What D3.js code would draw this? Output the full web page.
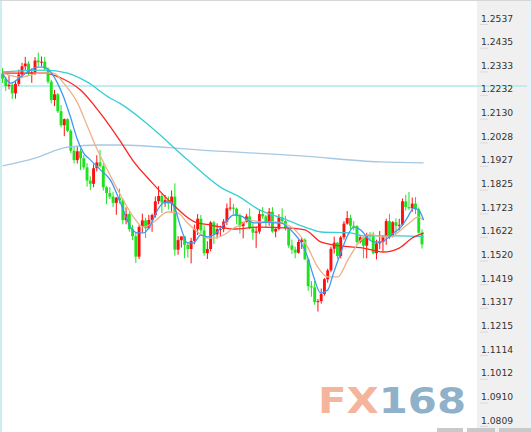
<!DOCTYPE html>
<html><head><meta charset="utf-8">
<script src="https://cdn.jsdelivr.net/npm/d3@7"></script>
<style>html,body{margin:0;padding:0;background:#fff;}svg{display:block;}</style>
</head><body>
<script>
// ---- data (EUR/USD daily candles) ----
const opens  = [1.2323,1.2302,1.2270,1.2276,1.2239,1.2280,1.2320,1.2355,1.2367,1.2327,1.2330,1.2380,1.2372,1.2375,1.2345,1.2289,1.2210,1.2235,1.2162,1.2102,1.2128,1.2078,1.1992,1.1952,1.1990,1.1960,1.1921,1.1864,1.1850,1.1917,1.1942,1.1926,1.1835,1.1810,1.1795,1.1768,1.1791,1.1779,1.1694,1.1720,1.1655,1.1625,1.1537,1.1665,1.1693,1.1659,1.1695,1.1716,1.1775,1.1798,1.1770,1.1780,1.1765,1.1795,1.1567,1.1608,1.1624,1.1588,1.1570,1.1605,1.1655,1.1700,1.1650,1.1552,1.1570,1.1684,1.1633,1.1655,1.1656,1.1688,1.1745,1.1748,1.1743,1.1713,1.1668,1.1686,1.1710,1.1659,1.1640,1.1645,1.1720,1.1710,1.1683,1.1730,1.1645,1.1657,1.1706,1.1690,1.1659,1.1585,1.1567,1.1554,1.1600,1.1610,1.1525,1.1410,1.1405,1.1342,1.1346,1.1377,1.1440,1.1478,1.1571,1.1597,1.1540,1.1620,1.1679,1.1703,1.1670,1.1668,1.1600,1.1620,1.1584,1.1630,1.1625,1.1552,1.1594,1.1600,1.1624,1.1690,1.1625,1.1685,1.1670,1.1674,1.1775,1.1750,1.1745,1.1765,1.1740,1.1640];
const highs  = [1.2347,1.2311,1.2318,1.2287,1.2294,1.2341,1.2370,1.2396,1.2376,1.2346,1.2395,1.2414,1.2397,1.2396,1.2350,1.2297,1.2254,1.2240,1.2188,1.2131,1.2132,1.2085,1.2011,1.2010,1.2000,1.1973,1.1939,1.1882,1.1934,1.1973,1.1996,1.1938,1.1840,1.1836,1.1816,1.1793,1.1830,1.1787,1.1749,1.1729,1.1674,1.1640,1.1675,1.1722,1.1704,1.1717,1.1722,1.1796,1.1840,1.1806,1.1802,1.1796,1.1821,1.1852,1.1625,1.1624,1.1627,1.1600,1.1618,1.1675,1.1720,1.1716,1.1672,1.1603,1.1690,1.1691,1.1680,1.1670,1.1699,1.1765,1.1790,1.1764,1.1748,1.1722,1.1687,1.1721,1.1745,1.1680,1.1667,1.1740,1.1750,1.1717,1.1746,1.1750,1.1659,1.1720,1.1745,1.1713,1.1660,1.1611,1.1580,1.1610,1.1620,1.1616,1.1530,1.1432,1.1433,1.1355,1.1400,1.1445,1.1485,1.1580,1.1623,1.1600,1.1626,1.1690,1.1733,1.1717,1.1690,1.1673,1.1627,1.1624,1.1640,1.1643,1.1644,1.1610,1.1647,1.1630,1.1700,1.1721,1.1690,1.1702,1.1700,1.1787,1.1803,1.1815,1.1791,1.1793,1.1748,1.1655];
const lows   = [1.2284,1.2249,1.2256,1.2215,1.2216,1.2270,1.2304,1.2339,1.2314,1.2284,1.2318,1.2355,1.2355,1.2335,1.2280,1.2196,1.2184,1.2155,1.2093,1.2055,1.2072,1.1983,1.1938,1.1937,1.1910,1.1911,1.1838,1.1823,1.1835,1.1904,1.1920,1.1821,1.1763,1.1784,1.1750,1.1717,1.1765,1.1676,1.1676,1.1644,1.1608,1.1510,1.1527,1.1640,1.1617,1.1654,1.1644,1.1705,1.1763,1.1725,1.1751,1.1740,1.1726,1.1541,1.1545,1.1576,1.1530,1.1533,1.1508,1.1590,1.1630,1.1637,1.1541,1.1527,1.1560,1.1591,1.1615,1.1623,1.1642,1.1673,1.1735,1.1720,1.1676,1.1636,1.1616,1.1683,1.1655,1.1610,1.1575,1.1635,1.1700,1.1663,1.1670,1.1640,1.1620,1.1650,1.1680,1.1649,1.1575,1.1549,1.1530,1.1550,1.1570,1.1525,1.1390,1.1365,1.1330,1.1301,1.1335,1.1370,1.1425,1.1470,1.1550,1.1528,1.1530,1.1610,1.1675,1.1654,1.1650,1.1592,1.1594,1.1530,1.1530,1.1605,1.1547,1.1525,1.1569,1.1560,1.1588,1.1612,1.1620,1.1634,1.1650,1.1670,1.1735,1.1738,1.1730,1.1720,1.1636,1.1572];
const closes = [1.2302,1.2270,1.2276,1.2239,1.2280,1.2320,1.2355,1.2367,1.2327,1.2330,1.2380,1.2372,1.2375,1.2345,1.2289,1.2210,1.2235,1.2162,1.2102,1.2128,1.2078,1.1992,1.1952,1.1990,1.1960,1.1921,1.1864,1.1850,1.1917,1.1942,1.1926,1.1835,1.1810,1.1795,1.1768,1.1791,1.1779,1.1694,1.1720,1.1655,1.1625,1.1537,1.1665,1.1693,1.1659,1.1695,1.1716,1.1775,1.1798,1.1770,1.1780,1.1765,1.1795,1.1567,1.1608,1.1624,1.1588,1.1570,1.1605,1.1655,1.1700,1.1650,1.1552,1.1570,1.1684,1.1633,1.1655,1.1656,1.1688,1.1745,1.1748,1.1743,1.1713,1.1668,1.1686,1.1710,1.1659,1.1640,1.1645,1.1720,1.1710,1.1683,1.1730,1.1645,1.1657,1.1706,1.1690,1.1659,1.1585,1.1567,1.1554,1.1600,1.1610,1.1525,1.1410,1.1405,1.1342,1.1346,1.1377,1.1440,1.1478,1.1571,1.1597,1.1540,1.1620,1.1679,1.1703,1.1670,1.1668,1.1600,1.1620,1.1584,1.1630,1.1625,1.1552,1.1594,1.1600,1.1624,1.1690,1.1625,1.1685,1.1670,1.1674,1.1775,1.1750,1.1745,1.1765,1.1740,1.1640,1.1590];

// moving-average lines: [candle index, value]
const ma5   = [[0,1.2326],[2.5,1.2283],[5.5,1.2309],[8.6,1.2339],[10.8,1.2352],[12.6,1.2352],[14.8,1.2331],[16.9,1.2283],[18.8,1.2223],[20.9,1.2137],[23.1,1.2038],[24.9,1.1983],[27.1,1.1952],[30.2,1.1909],[33.2,1.1866],[36.3,1.1768],[39.4,1.1664],[41.5,1.1639],[43.4,1.1639],[45.5,1.1673],[47.7,1.1738],[49.5,1.1768],[51.7,1.1772],[53.2,1.1738],[54.8,1.1664],[56.9,1.1596],[58.8,1.1596],[60.9,1.1630],[63.1,1.1622],[64.9,1.1630],[67.1,1.1660],[69.2,1.1695],[71.1,1.1716],[73.2,1.1712],[75.4,1.1695],[77.2,1.1682],[79.4,1.1682],[81.5,1.1686],[83.4,1.1682],[85.5,1.1682],[87.7,1.1664],[89.5,1.1639],[91.7,1.1600],[93.8,1.1536],[95.7,1.1450],[97.8,1.1381],[100,1.1394],[101.8,1.1467],[104,1.1553],[106.2,1.1630],[108,1.1664],[110.2,1.1652],[112.3,1.1617],[114.2,1.1600],[116.3,1.1600],[118.5,1.1617],[120.3,1.1639],[122.5,1.1664],[124.6,1.1707],[126.5,1.1746],[128,1.1738],[129.5,1.1695]];
const ma10  = [[0,1.2326],[5.5,1.2309],[11.7,1.2326],[15.7,1.2326],[18.8,1.2283],[23.1,1.2197],[26.2,1.2094],[29.2,1.1995],[33.2,1.1884],[36.3,1.1802],[40.3,1.1707],[43.4,1.1664],[46.5,1.1686],[50.8,1.1729],[53.8,1.1725],[56.9,1.1682],[60,1.1643],[63.1,1.1617],[64.9,1.1617],[68,1.1630],[71.1,1.1660],[73.2,1.1673],[75.4,1.1695],[79.4,1.1686],[83.4,1.1686],[87.7,1.1673],[90.8,1.1639],[93.8,1.1579],[96.9,1.1493],[100,1.1450],[103.1,1.1450],[106.2,1.1523],[110.2,1.1609],[113.2,1.1634],[116.3,1.1622],[119.4,1.1622],[122.5,1.1652],[125.5,1.1686],[127.7,1.1707],[129.5,1.1695]];
const ma30  = [[0,1.2326],[13,1.2326],[18,1.2305],[24,1.2253],[30,1.2155],[36,1.2038],[40,1.1952],[46,1.1855],[51,1.1781],[60,1.1682],[64,1.1673],[71,1.1656],[79,1.1664],[88,1.1660],[93,1.1652],[98,1.1600],[107,1.1579],[111,1.1574],[117,1.1557],[122,1.1574],[126,1.1617],[129.5,1.1639]];
const ma60  = [[0,1.2331],[13,1.2339],[20,1.2326],[26,1.2288],[33,1.2219],[36,1.2197],[46,1.2090],[57,1.1952],[67,1.1836],[73,1.1793],[79,1.1738],[86,1.1703],[93,1.1664],[98,1.1643],[107,1.1639],[111,1.1626],[122,1.1626],[129.5,1.1622]];
const ma200 = [[0,1.1927],[10,1.1961],[20,1.2008],[30,1.2017],[36,1.2017],[61,1.1995],[92,1.1970],[116,1.1944],[129.5,1.1940]];
const refLevel = 1.2270;
const tickLabels = ["1.2537","1.2435","1.2333","1.2232","1.2130","1.2028","1.1927","1.1825","1.1723","1.1622","1.1520","1.1419","1.1317","1.1215","1.1114","1.1012","1.0910","1.0809"];

// ---- drawing ----
const W = 531, H = 432;
const svg = d3.select("body").append("svg").attr("width", W).attr("height", H);
const N = closes.length;
const x = d3.scaleLinear().domain([0, N - 1]).range([2.5, 422]);
const y = d3.scaleLinear().domain([1.0809, 1.2537]).range([426.05, 24]);

svg.append("rect").attr("width", W).attr("height", H).attr("fill", "#ffffff");
// left edge strip
svg.append("rect").attr("x", 0).attr("y", 0).attr("width", 2).attr("height", H).attr("fill", "#c9eff0");
// axis panel
svg.append("rect").attr("x", 477).attr("y", 0).attr("width", 54).attr("height", H).attr("fill", "#f0f0f0");
svg.append("rect").attr("x", 527).attr("y", 0).attr("width", 4).attr("height", H).attr("fill", "#e9f2fa");
svg.append("rect").attr("x", 0).attr("y", 0).attr("width", W).attr("height", 1).attr("fill", "#d6d6d6");

// watermark
const wm = svg.append("text").attr("x", 318).attr("y", 413)
  .attr("font-family", "DejaVu Sans, Verdana, sans-serif").attr("font-weight", "bold")
  .attr("font-size", 35).attr("textLength", 148).attr("lengthAdjust", "spacingAndGlyphs");
wm.append("tspan").attr("fill", "#f5b59d").text("FX");
wm.append("tspan").attr("fill", "#8fb1c9").text("168");

// reference horizontal line
svg.append("line").attr("x1", 0).attr("x2", 527).attr("y1", y(refLevel)).attr("y2", y(refLevel))
  .attr("stroke", "#c3eded").attr("stroke-width", 2);

// candles
const up = "#ff1010", down = "#1fe21f";
const cg = svg.append("g");
const idx = d3.range(N);
cg.selectAll("line.wick").data(idx).join("line")
  .attr("x1", i => x(i)).attr("x2", i => x(i))
  .attr("y1", i => y(highs[i])).attr("y2", i => y(lows[i]))
  .attr("stroke", i => closes[i] >= opens[i] ? up : down).attr("stroke-width", 1);
cg.selectAll("rect.body").data(idx).join("rect")
  .attr("x", i => x(i) - 1.45).attr("width", 2.9)
  .attr("y", i => y(Math.max(opens[i], closes[i])))
  .attr("height", i => Math.max(1, Math.abs(y(opens[i]) - y(closes[i]))))
  .attr("fill", i => closes[i] >= opens[i] ? up : down);

// MA lines
const line = d3.line().x(d => x(d[0])).y(d => y(d[1])).curve(d3.curveMonotoneX);
[[ma200, "#a6c8e2"], [ma60, "#36cfd3"], [ma30, "#ff2323"], [ma10, "#eeb088"], [ma5, "#3d98f5"]]
  .forEach(([data, col]) => {
    svg.append("path").attr("d", line(data)).attr("fill", "none")
      .attr("stroke", col).attr("stroke-width", 1.3);
  });

// price axis
const ax = d3.axisRight(y).tickValues(tickLabels.map(Number))
  .tickFormat((d, i) => tickLabels[i]).tickSize(8).tickPadding(-7);
const axg = svg.append("g").attr("transform", "translate(480,0)").call(ax);
axg.select(".domain").remove();
axg.selectAll(".tick line").attr("stroke", "#d9d9d9");
axg.selectAll(".tick text").attr("dy", 0).attr("y", -3)
  .attr("font-family", "DejaVu Sans, Verdana, sans-serif").attr("font-size", 9.2).attr("fill", "#333");

// bottom scrollbar pieces
[[437, 26], [467, 28], [499, 32]].forEach(([bx, bw]) =>
  svg.append("rect").attr("x", bx).attr("y", 428).attr("width", bw).attr("height", 4).attr("fill", "#c9c9c9"));
</script>
</body></html>
